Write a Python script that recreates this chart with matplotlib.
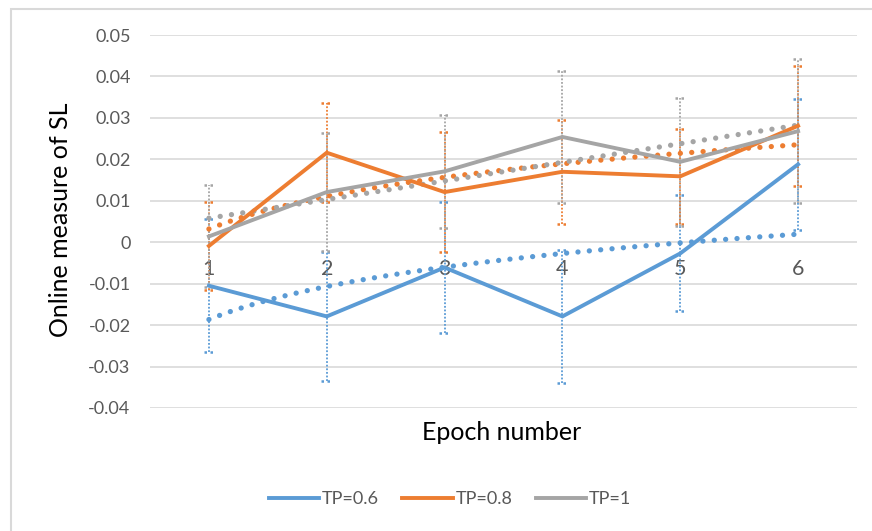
import numpy as np
import matplotlib
matplotlib.use("Agg")
import matplotlib.pyplot as plt
from matplotlib.patches import Rectangle

plt.rcParams['font.family'] = ['Lato', 'DejaVu Sans']

epochs = [1, 2, 3, 4, 5, 6]
series_names = ['TP=0.6', 'TP=0.8', 'TP=1']
tp06 = [-0.0105, -0.0179, -0.0061, -0.0179, -0.0027, 0.0188]
tp08 = [-0.0009, 0.0216, 0.0121, 0.0170, 0.0159, 0.0281]
tp10 = [0.0014, 0.0121, 0.0171, 0.0254, 0.0194, 0.0268]
err06 = [0.0160, 0.0155, 0.0158, 0.0160, 0.0140, 0.0158]
err08 = [0.0106, 0.0120, 0.0145, 0.0125, 0.0114, 0.0145]
err10 = [0.0123, 0.0143, 0.0137, 0.0160, 0.0155, 0.0174]
trend_kind = ['log', 'log', 'linear']
colors = ['#5B9BD5', '#ED7D31', '#A5A5A5']

fig = plt.figure(figsize=(8.72, 5.31), dpi=100)
ax = fig.add_axes([150/872, 1 - 408/531, 707/872, 373/531])

x = np.array(epochs, dtype=float)
xs = np.linspace(1, 6, 200)
lines = []
for vals, errs, kind, c, name in zip([tp06, tp08, tp10], [err06, err08, err10],
                                     trend_kind, colors, series_names):
    y = np.array(vals)
    e = np.array(errs)
    # dotted error bars with dotted caps
    ax.vlines(x, y - e, y + e, colors=c, lw=1.3, linestyles=(0, (1, 1)), zorder=2)
    ax.hlines(y + e, x - 0.045, x + 0.045, colors=c, lw=1.8, linestyles=(0, (1, 1.4)), zorder=2)
    ax.hlines(y - e, x - 0.045, x + 0.045, colors=c, lw=1.8, linestyles=(0, (1, 1.4)), zorder=2)
    ln, = ax.plot(x, y, color=c, lw=2.8, label=name, zorder=4, solid_joinstyle='miter')
    lines.append(ln)
    # trendline
    if kind == 'log':
        b, a = np.polyfit(np.log(x), y, 1)
        yt = a + b * np.log(xs)
    else:
        b, a = np.polyfit(x, y, 1)
        yt = a + b * xs
    ax.plot(xs, yt, color=c, lw=3.8, linestyle=(0, (0.01, 2.15)),
            dash_capstyle='round', zorder=3)

ax.set_xlim(0.5, 6.5)
ax.set_ylim(-0.04, 0.05)
ax.set_yticks(np.arange(-0.04, 0.0501, 0.01))
ax.set_yticklabels(['-0.04', '-0.03', '-0.02', '-0.01', '0', '0.01', '0.02', '0.03', '0.04', '0.05'])
ax.set_xticks(epochs)
ax.set_xticklabels([str(e) for e in epochs])
ax.grid(axis='y', color='#D9D9D9', lw=1.2)
ax.set_axisbelow(True)
for s in ax.spines.values():
    s.set_visible(False)
ax.spines['bottom'].set_position(('data', 0))
ax.tick_params(axis='y', length=0, pad=14, labelsize=13, labelcolor='#595959')
ax.tick_params(axis='x', length=0, pad=12, labelsize=15.5, labelcolor='#595959')

fig.text(60/872, 1 - 220/531, 'Online measure of SL', rotation=90,
         ha='center', va='center', fontsize=18, color='#000000')
fig.text(502/872, 1 - 432/531, 'Epoch number', ha='center', va='center',
         fontsize=18, color='#000000')

fig.legend(handles=lines, loc='center', bbox_to_anchor=(450/872, 1 - 499/531),
           ncol=3, frameon=False, fontsize=13, labelcolor='#595959',
           handlelength=2.8, handletextpad=0.15, columnspacing=1.3)

fig.patches.append(Rectangle((11/872, -0.1), 1.2, 1 - 9/531 + 0.1, transform=fig.transFigure,
                             fill=False, edgecolor='#D9D9D9', lw=1.5, clip_on=False))

fig.savefig('out.png', dpi=100)
